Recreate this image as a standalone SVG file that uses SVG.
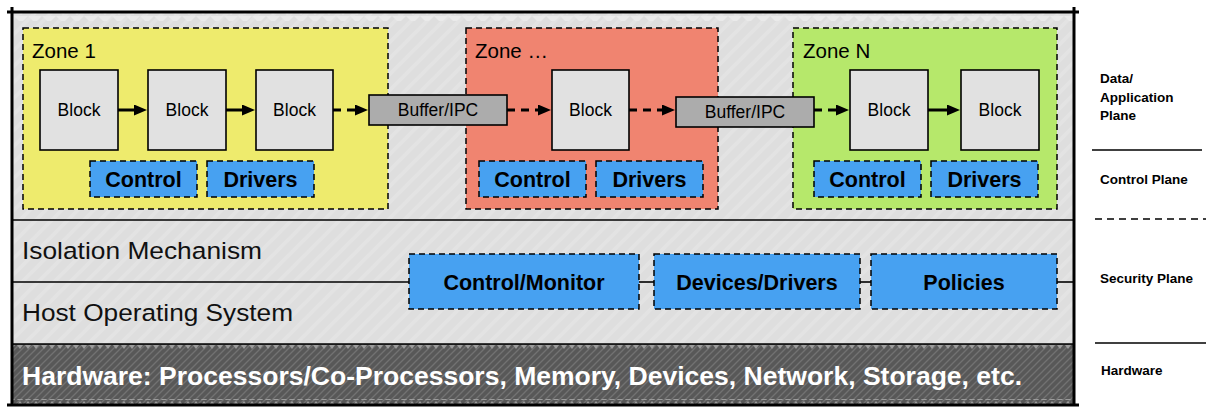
<svg xmlns="http://www.w3.org/2000/svg" width="1206" height="407" viewBox="0 0 1206 407">
  <style>
    .frame { fill: none; stroke: #000; stroke-width: 3; stroke-linecap: butt; }
    .sep { stroke: #000; stroke-width: 1.6; fill: none; }
    .zone { stroke: #000; stroke-width: 1.5; stroke-dasharray: 6 4; }
    .block { fill: #e1e1e1; stroke: #000; stroke-width: 1.6; }
    .buffer { fill: #acacac; stroke: #000; stroke-width: 1.6; }
    .blue { fill: #47a1f1; stroke: #000; stroke-width: 1.5; stroke-dasharray: 6 4; }
    .zlabel { font-family: "Liberation Sans", Arial, sans-serif; font-size: 20.5px; fill: #000; }
    .blabel { font-family: "Liberation Sans", Arial, sans-serif; font-size: 17.5px; fill: #000; text-anchor: middle; }
    .bold { font-family: "Liberation Sans", Arial, sans-serif; font-weight: bold; font-size: 21.5px; fill: #000; text-anchor: middle; }
    .layer { font-family: "Liberation Sans", Arial, sans-serif; font-size: 24.5px; fill: #111; }
    .hw { font-family: "Liberation Sans", Arial, sans-serif; font-weight: bold; font-size: 25px; fill: #fff; }
    .plane { font-family: "Liberation Sans", Arial, sans-serif; font-weight: bold; font-size: 13.5px; fill: #000; }
    .arrow { stroke: #000; stroke-width: 3; fill: none; marker-end: url(#head); }
    .dashed { stroke-dasharray: 8 6; }
    .link { stroke: #000; stroke-width: 1.6; fill: none; }
  </style>
  <defs>
    <marker id="head" markerUnits="userSpaceOnUse" markerWidth="14" markerHeight="12" refX="7" refY="5.5" orient="auto">
      <path d="M0,0 L13,5.5 L0,11 z" fill="#000"/>
    </marker>
    <!-- faint diagonal texture on the light grey panel -->
    <pattern id="lightHatch" patternUnits="userSpaceOnUse" width="16" height="16">
      <rect width="16" height="16" fill="#dedede"/>
      <path d="M-4,4 L4,-4 M0,16 L16,0 M12,20 L20,12" stroke="#e3e3e3" stroke-width="4"/>
    </pattern>
    <!-- dark hatched hardware band -->
    <pattern id="darkHatch" patternUnits="userSpaceOnUse" width="7" height="7">
      <rect width="7" height="7" fill="#585858"/>
      <path d="M-2,2 L2,-2 M0,7 L7,0 M5,9 L9,5" stroke="#727272" stroke-width="1.3"/>
    </pattern>
    <pattern id="teethDown" patternUnits="userSpaceOnUse" width="8" height="5">
      <polygon points="1,0 7,0 4,4" fill="#9c9c9c"/>
    </pattern>
    <pattern id="teethUp" patternUnits="userSpaceOnUse" width="8" height="5">
      <polygon points="1,5 7,5 4,1" fill="#9c9c9c"/>
    </pattern>
    <pattern id="teethLight" patternUnits="userSpaceOnUse" width="14" height="8">
      <polygon points="0,0 14,0 7,7" fill="#eaeaea"/>
    </pattern>
  </defs>

  <!-- panel background -->
  <g id="panel">
    <rect x="12" y="12" width="1062" height="332" fill="url(#lightHatch)"/>
    <rect x="13" y="13" width="1060" height="8" fill="url(#teethLight)"/>
    <rect x="12" y="344" width="1062" height="61" fill="url(#darkHatch)"/>
    <rect x="13" y="345" width="1060" height="5" fill="url(#teethDown)"/>
    <rect x="13" y="399" width="1060" height="5" fill="url(#teethUp)"/>
    <line class="sep" x1="12" y1="220" x2="1074" y2="220"/>
    <line class="sep" x1="12" y1="344" x2="1074" y2="344"/>
  </g>

  <!-- layer names -->
  <g id="isolation">
    <text class="layer" x="22" y="259" textLength="240" lengthAdjust="spacingAndGlyphs">Isolation Mechanism</text>
  </g>
  <g id="host-os">
    <text class="layer" x="22" y="321" textLength="271" lengthAdjust="spacingAndGlyphs">Host Operating System</text>
  </g>
  <g id="hardware">
    <text class="hw" x="22" y="385" textLength="1000" lengthAdjust="spacingAndGlyphs">Hardware: Processors/Co-Processors, Memory, Devices, Network, Storage, etc.</text>
  </g>

  <!-- Zone 1 -->
  <g id="zone-1">
    <rect class="zone" x="23" y="28" width="365" height="181" fill="#eeeb6d"/>
    <text class="zlabel" x="32" y="58">Zone 1</text>
    <g id="z1-block-a">
      <rect class="block" x="40" y="70" width="78" height="80"/>
      <text class="blabel" x="79" y="116">Block</text>
    </g>
    <g id="z1-block-b">
      <rect class="block" x="148" y="70" width="78" height="80"/>
      <text class="blabel" x="187" y="116">Block</text>
    </g>
    <g id="z1-block-c">
      <rect class="block" x="256" y="70" width="77" height="80"/>
      <text class="blabel" x="294.5" y="116">Block</text>
    </g>
    <g id="z1-control">
      <rect class="blue" x="90" y="161" width="107" height="36"/>
      <text class="bold" x="143.5" y="187">Control</text>
    </g>
    <g id="z1-drivers">
      <rect class="blue" x="207" y="161" width="107" height="36"/>
      <text class="bold" x="260.5" y="187">Drivers</text>
    </g>
  </g>

  <!-- Zone ... -->
  <g id="zone-mid">
    <rect class="zone" x="466" y="28" width="252" height="181" fill="#f08470"/>
    <text class="zlabel" x="475" y="58">Zone …</text>
    <g id="zm-block">
      <rect class="block" x="552" y="70" width="77" height="80"/>
      <text class="blabel" x="590.5" y="116">Block</text>
    </g>
    <g id="zm-control">
      <rect class="blue" x="479" y="161" width="107" height="36"/>
      <text class="bold" x="532.5" y="187">Control</text>
    </g>
    <g id="zm-drivers">
      <rect class="blue" x="596" y="161" width="107" height="36"/>
      <text class="bold" x="649.5" y="187">Drivers</text>
    </g>
  </g>

  <!-- Zone N -->
  <g id="zone-n">
    <rect class="zone" x="793" y="28" width="264" height="181" fill="#b6e86b"/>
    <text class="zlabel" x="803" y="58">Zone N</text>
    <g id="zn-block-a">
      <rect class="block" x="850" y="70" width="78" height="80"/>
      <text class="blabel" x="889" y="116">Block</text>
    </g>
    <g id="zn-block-b">
      <rect class="block" x="961" y="70" width="78" height="80"/>
      <text class="blabel" x="1000" y="116">Block</text>
    </g>
    <g id="zn-control">
      <rect class="blue" x="814" y="161" width="107" height="36"/>
      <text class="bold" x="867.5" y="187">Control</text>
    </g>
    <g id="zn-drivers">
      <rect class="blue" x="931" y="161" width="107" height="36"/>
      <text class="bold" x="984.5" y="187">Drivers</text>
    </g>
  </g>

  <!-- buffers between zones -->
  <g id="buffer-1">
    <rect class="buffer" x="369" y="95" width="138" height="30"/>
    <text class="blabel" x="438" y="116">Buffer/IPC</text>
  </g>
  <g id="buffer-2">
    <rect class="buffer" x="676" y="97" width="138" height="30"/>
    <text class="blabel" x="745" y="118">Buffer/IPC</text>
  </g>

  <!-- security plane components -->
  <g id="control-monitor">
    <rect class="blue" x="409" y="254" width="230" height="55"/>
    <text class="bold" x="524" y="290">Control/Monitor</text>
  </g>
  <g id="devices-drivers">
    <rect class="blue" x="654" y="254" width="206" height="55"/>
    <text class="bold" x="757" y="290">Devices/Drivers</text>
  </g>
  <g id="policies">
    <rect class="blue" x="871" y="254" width="186" height="55"/>
    <text class="bold" x="964" y="290">Policies</text>
  </g>

  <!-- connectors -->
  <g id="connectors">
    <line class="arrow" x1="118" y1="110" x2="141" y2="110"/>
    <line class="arrow" x1="226" y1="110" x2="249" y2="110"/>
    <line class="arrow dashed" x1="333" y1="110" x2="362" y2="110"/>
    <line class="arrow dashed" x1="507" y1="110" x2="545" y2="110"/>
    <line class="arrow dashed" x1="629" y1="110" x2="669" y2="110"/>
    <line class="arrow dashed" x1="814" y1="110" x2="843" y2="110"/>
    <line class="arrow" x1="928" y1="110" x2="954" y2="110"/>
    <line class="link" x1="12" y1="282" x2="409" y2="282"/>
    <line class="link" x1="639" y1="282" x2="654" y2="282"/>
    <line class="link" x1="860" y1="282" x2="871" y2="282"/>
    <line class="link" x1="1057" y1="282" x2="1074" y2="282"/>
  </g>

  <!-- outer frame, edges drawn with a slight overshoot -->
  <g id="frame">
    <line class="frame" x1="7" y1="12" x2="1079" y2="12"/>
    <line class="frame" x1="7" y1="405" x2="1079" y2="405"/>
    <line class="frame" x1="12" y1="7" x2="12" y2="406"/>
    <line class="frame" x1="1074" y1="7" x2="1074" y2="406"/>
  </g>

  <!-- plane legend -->
  <g id="legend">
    <text class="plane" x="1100" y="83">Data/</text>
    <text class="plane" x="1100" y="102">Application</text>
    <text class="plane" x="1100" y="120">Plane</text>
    <line x1="1092" y1="150" x2="1202" y2="150" stroke="#000" stroke-width="1.6"/>
    <text class="plane" x="1100" y="184">Control Plane</text>
    <line x1="1095" y1="219" x2="1206" y2="219" stroke="#000" stroke-width="1.6" stroke-dasharray="7 5"/>
    <text class="plane" x="1100" y="283">Security Plane</text>
    <line x1="1095" y1="343" x2="1206" y2="343" stroke="#000" stroke-width="1.6"/>
    <text class="plane" x="1101" y="375">Hardware</text>
  </g>
</svg>
